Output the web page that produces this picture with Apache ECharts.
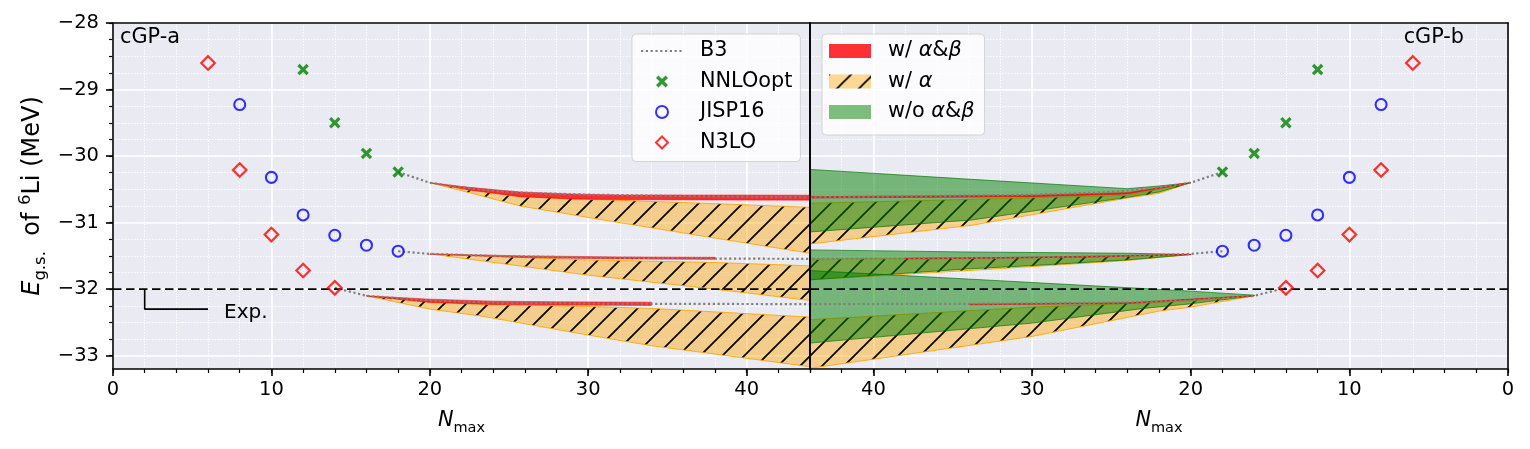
<!DOCTYPE html>
<html><head><meta charset="utf-8">
<script src="https://cdn.jsdelivr.net/npm/echarts@6/dist/echarts.min.js"></script>
<style>html,body{margin:0;padding:0;background:#fff}#c{width:1530px;height:449px}</style>
</head><body><div id="c"></div>
<script>
// ---------------- data ----------------
const xMajorTicks = [0, 10, 20, 30, 40];
const xMinorTicks = [0,2,4,6,8,10,12,14,16,18,20,22,24,26,28,30,32,34,36,38,40,42,44];
const yMajorTicks = [-33, -32, -31, -30, -29, -28];
const yMinorTicks = [-33,-32.75,-32.5,-32.25,-32,-31.75,-31.5,-31.25,-31,-30.75,-30.5,-30.25,-30,-29.75,-29.5,-29.25,-29,-28.75,-28.5,-28.25,-28];
const xRange = [0, 44];
const yRange = [-33.2, -28];

// NCSM results (Nmax, E)
const nnloN = [12, 14, 16, 18];
const nnloE = [-28.70, -29.50, -29.96, -30.24];
const jispN = [8, 10, 12, 14, 16, 18];
const jispE = [-29.225, -30.32, -30.885, -31.19, -31.34, -31.43];
const n3loN = [6, 8, 10, 12, 14];
const n3loE = [-28.60, -30.21, -31.18, -31.72, -31.98];

// B3 extrapolation curves [Nmax, E]
const b3Top = [[18,-30.24],[20,-30.40],[22,-30.47],[24,-30.52],[26,-30.55],[30,-30.58],[36,-30.60],[44,-30.62]];
const b3Mid = [[18,-31.43],[20,-31.47],[24,-31.50],[30,-31.525],[38,-31.54],[44,-31.545]];
const b3Bot = [[14,-31.98],[16,-32.10],[20,-32.17],[24,-32.20],[30,-32.215],[34,-32.22],[44,-32.225]];

// Experiment
const expE = -32.0;
const expMarkN = [2, 2, 6];
const expMarkE = [-32.0, -32.3, -32.3];

// cGP-a bands: [Nmax, lower, upper]
const aTopAB = [[20,-30.40,-30.40],[22.5,-30.51,-30.47],[25.7,-30.61,-30.54],[28.9,-30.645,-30.57],[32,-30.655,-30.585],[38,-30.66,-30.585],[44,-30.662,-30.587]];
const aTopA  = [[20,-30.40,-30.40],[22.5,-30.55,-30.51],[25.7,-30.75,-30.61],[30.7,-30.95,-30.655],[37.4,-31.21,-30.71],[44,-31.46,-30.77]];
const aMidAB = [[20,-31.475,-31.47],[26,-31.525,-31.50],[32,-31.545,-31.515],[38,-31.55,-31.52]];
const aMidA  = [[20,-31.47,-31.47],[24.4,-31.61,-31.51],[30,-31.79,-31.56],[38,-32.0,-31.60],[44,-32.17,-31.65]];
const aBotAB = [[16,-32.105,-32.10],[20,-32.20,-32.15],[24,-32.23,-32.18],[28,-32.24,-32.19],[34,-32.245,-32.195]];
const aBotA  = [[16,-32.10,-32.10],[20,-32.30,-32.19],[23.4,-32.41,-32.23],[30,-32.69,-32.26],[34,-32.85,-32.29],[44,-33.165,-32.42]];

// cGP-b bands: [Nmax, lower, upper]
const bTopAB = [[20,-30.40,-30.40],[24,-30.57,-30.55],[30,-30.61,-30.59],[44,-30.63,-30.61]];
const bTopA  = [[20,-30.40,-30.40],[22,-30.56,-30.50],[24,-30.63,-30.59],[33.8,-31.04,-30.65],[44,-31.32,-30.71]];
const bTopG  = [[20,-30.40,-30.40],[22,-30.54,-30.45],[24,-30.62,-30.49],[33.8,-30.96,-30.35],[44,-31.14,-30.20]];
const bMidAB = [[20,-31.48,-31.475],[26,-31.515,-31.505],[32,-31.535,-31.525],[38,-31.545,-31.535]];
const bMidA  = [[20,-31.48,-31.48],[24,-31.57,-31.50],[30,-31.66,-31.52],[34,-31.72,-31.53],[44,-31.86,-31.55]];
const bMidG  = [[20,-31.48,-31.48],[24,-31.56,-31.46],[29.6,-31.64,-31.45],[34.4,-31.70,-31.44],[44,-31.86,-31.41]];
const bBotAB = [[16,-32.10,-32.095],[24,-32.215,-32.205],[34,-32.235,-32.225]];
const bBotA  = [[16,-32.10,-32.10],[20,-32.27,-32.17],[22,-32.33,-32.20],[30,-32.71,-32.27],[44,-33.19,-32.46]];
const bBotG  = [[16,-32.10,-32.09],[20,-32.22,-32.03],[23,-32.29,-31.99],[30,-32.51,-31.90],[44,-32.81,-31.72]];

const legend1Names = ['B3', 'NNLOopt', 'JISP16', 'N3LO'];
const legend2Names = ['w/ α&β', 'w/ α', 'w/o α&β'];

// ---------------- styles ----------------
const FONT = 'DejaVu Sans';
const BG = '#eaeaf2';
const hatchCanvas = (function () {
  const s = 22, c = document.createElement('canvas');
  c.width = s; c.height = s;
  const g = c.getContext('2d');
  g.fillStyle = 'rgba(255,165,0,0.42)';
  g.fillRect(0, 0, s, s);
  g.strokeStyle = '#000'; g.lineWidth = 1.7;
  g.beginPath();
  g.moveTo(-2, s + 2); g.lineTo(s + 2, -2);
  g.moveTo(-2, 2); g.lineTo(2, -2);
  g.moveTo(s - 2, s + 2); g.lineTo(s + 2, s - 2);
  g.stroke();
  return c;
})();
const hatchFill = { image: hatchCanvas, repeat: 'repeat' };
const redFill = 'rgba(255,0,0,0.8)';
const greenFill = 'rgba(0,128,0,0.5)';
const orangeStroke = 'rgba(255,165,0,0.85)';
const greenStroke = 'rgba(0,110,0,0.65)';
const xSymbol = 'path://M0,2 L2,0 L5,3 L8,0 L10,2 L7,5 L10,8 L8,10 L5,7 L2,10 L0,8 L3,5 Z';
const diamondSymbol = 'path://M5,0 L10,5 L5,10 L0,5 Z';

function bandSeries(name, gi, bands, fill, stroke, lw, z) {
  return {
    type: 'custom', name: name, coordinateSystem: 'cartesian2d',
    xAxisIndex: gi, yAxisIndex: gi, clip: true, z: z, silent: true,
    itemStyle: { color: fill },
    emphasis: { disabled: true },
    data: bands.map(b => [b[0][0], b[0][1]]),
    renderItem: function (params, api) {
      const b = bands[params.dataIndex];
      const pts = [];
      for (let i = 0; i < b.length; i++) pts.push(api.coord([b[i][0], b[i][2]]));
      for (let i = b.length - 1; i >= 0; i--) pts.push(api.coord([b[i][0], b[i][1]]));
      return { type: 'polygon', shape: { points: pts }, style: { fill: fill, stroke: stroke, lineWidth: lw } };
    }
  };
}

const xAxes = [], yAxes = [];
[0, 1].forEach(gi => { // minor grid/ticks
  xAxes.push({ type: 'value', gridIndex: gi, min: xRange[0], max: xRange[1], inverse: gi === 1, position: 'bottom', z: 0,
    axisLine: { show: false }, axisLabel: { show: false },
    axisTick: { show: true, customValues: xMinorTicks, length: 4, lineStyle: { color: '#000', width: 1.2 } },
    splitLine: { show: true, lineStyle: { color: '#fff', width: 1, type: [1.5, 1.5] } } });
  yAxes.push({ type: 'value', gridIndex: gi, min: yRange[0], max: yRange[1], position: 'left', z: 0,
    axisLine: { show: false }, axisLabel: { show: false },
    axisTick: { show: gi === 0, customValues: yMinorTicks, length: 4, lineStyle: { color: '#000', width: 1.2 } },
    splitLine: { show: true, lineStyle: { color: '#fff', width: 1, type: [1.5, 1.5] } } });
});
[0, 1].forEach(gi => { // major grid/ticks/labels
  xAxes.push({ type: 'value', gridIndex: gi, min: xRange[0], max: xRange[1], inverse: gi === 1, position: 'bottom', z: 1,
    axisLine: { show: false, onZero: false },
    axisTick: { show: true, customValues: xMajorTicks, length: 7, lineStyle: { color: '#000', width: 1.6 } },
    axisLabel: { show: true, customValues: xMajorTicks, fontSize: 19.5, margin: 11, color: '#000', fontFamily: FONT },
    splitLine: { show: true, lineStyle: { color: '#fff', width: 1.6 } },
    name: '{n|N}{s|max}', nameLocation: 'middle', nameGap: 37,
    nameTextStyle: { rich: {
      n: { fontStyle: 'italic', fontSize: 20.8, lineHeight: 30, fontFamily: FONT, color: '#000' },
      s: { fontSize: 14.5, lineHeight: 20, verticalAlign: 'bottom', fontFamily: FONT, color: '#000' } } } });
  yAxes.push({ type: 'value', gridIndex: gi, min: yRange[0], max: yRange[1], position: 'left', z: 1,
    axisLine: { show: false, onZero: false },
    axisTick: { show: gi === 0, customValues: yMajorTicks, length: 7, lineStyle: { color: '#000', width: 1.6 } },
    axisLabel: { show: gi === 0, customValues: yMajorTicks, fontSize: 19.5, margin: 14, color: '#000', fontFamily: FONT,
      formatter: v => (v < 0 ? '\u2212' : '') + Math.abs(v) },
    splitLine: { show: true, lineStyle: { color: '#fff', width: 1.6 } },
    name: gi === 0 ? '{e|E}{sub|g.s.}{t|  of }{sup|6}{t|Li (MeV)}' : '',
    nameLocation: 'middle', nameRotate: 90, nameGap: 64,
    nameTextStyle: { rich: {
      e: { fontStyle: 'italic', fontSize: 24, lineHeight: 32, fontFamily: FONT, color: '#000' },
      t: { fontSize: 24, lineHeight: 32, fontFamily: FONT, color: '#000' },
      sub: { fontSize: 16.5, lineHeight: 21, verticalAlign: 'bottom', fontFamily: FONT, color: '#000' },
      sup: { fontSize: 16.5, lineHeight: 13, verticalAlign: 'top', fontFamily: FONT, color: '#000' } } } });
});
const frameLine = { show: true, onZero: false, lineStyle: { color: '#000', width: 1.6 } };
[0, 1].forEach(gi => {
  ['bottom', 'top'].forEach(pos => xAxes.push({ type: 'value', gridIndex: gi, min: xRange[0], max: xRange[1], inverse: gi === 1,
    position: pos, z: 10, axisLine: frameLine, axisTick: { show: false }, axisLabel: { show: false }, splitLine: { show: false } }));
  ['left', 'right'].forEach(pos => yAxes.push({ type: 'value', gridIndex: gi, min: yRange[0], max: yRange[1],
    position: pos, z: 10, axisLine: frameLine, axisTick: { show: false }, axisLabel: { show: false }, splitLine: { show: false } }));
});

const series = [];
// bands
series.push(bandSeries('w/ α', 0, [aTopA, aMidA, aBotA], hatchFill, orangeStroke, 1, 2));
series.push(bandSeries('w/ α&β', 0, [aTopAB, aMidAB, aBotAB], redFill, redFill, 0.6, 4));
series.push(bandSeries('w/ α', 1, [bTopA, bMidA, bBotA], hatchFill, orangeStroke, 1, 2));
series.push(bandSeries('w/o α&β', 1, [bTopG, bMidG, bBotG], greenFill, greenStroke, 1, 3));
series.push(bandSeries('w/ α&β', 1, [bTopAB, bMidAB, bBotAB], redFill, redFill, 0.8, 4));

[0, 1].forEach(gi => {
  [b3Top, b3Mid, b3Bot].forEach(d => series.push({ type: 'line', name: 'B3', xAxisIndex: gi, yAxisIndex: gi, data: d,
    symbol: 'none', silent: true, z: 5, itemStyle: { color: 'rgba(0,0,0,0)', opacity: 0 },
    lineStyle: { color: '#808080', width: 2.2, type: [2.2, 2.6] } }));
  series.push({ type: 'line', xAxisIndex: gi, yAxisIndex: gi, data: xRange.map(n => [n, expE]), symbol: 'none', silent: true, z: 6,
    lineStyle: { color: '#000', width: 1.6, type: [8.5, 4.5] } });
  series.push({ type: 'scatter', name: 'NNLOopt', xAxisIndex: gi, yAxisIndex: gi, z: 8, silent: true,
    data: nnloN.map((n, i) => [n, nnloE[i]]), symbol: xSymbol, symbolKeepAspect: true,
    symbolSize: 11.5, itemStyle: { color: '#008000' } });
  series.push({ type: 'scatter', name: 'JISP16', xAxisIndex: gi, yAxisIndex: gi, z: 8, silent: true,
    data: jispN.map((n, i) => [n, jispE[i]]),
    symbol: 'circle', symbolSize: 11, itemStyle: { color: 'rgba(0,0,0,0)', borderColor: '#0000ff', borderWidth: 2.1 } });
  series.push({ type: 'scatter', name: 'N3LO', xAxisIndex: gi, yAxisIndex: gi, z: 8, silent: true,
    data: n3loN.map((n, i) => [n, n3loE[i]]), symbolKeepAspect: true,
    symbol: diamondSymbol, symbolSize: 13.5, itemStyle: { color: 'rgba(0,0,0,0)', borderColor: '#ff0000', borderWidth: 2.2 } });
});
// Exp. marker
series.push({ type: 'line', xAxisIndex: 0, yAxisIndex: 0, data: expMarkN.map((n, i) => [n, expMarkE[i]]), symbol: 'none',
  silent: true, z: 6, lineStyle: { color: '#000', width: 1.6 },
  endLabel: { show: true, formatter: 'Exp.', distance: 16, offset: [0, 4], color: '#000', fontSize: 20, fontFamily: FONT } });

const legendCommon = {
  orient: 'vertical', itemWidth: 42, itemGap: 8.5, selectedMode: false, symbolKeepAspect: true,
  backgroundColor: 'rgba(255,255,255,0.8)', borderColor: 'rgba(204,204,204,0.8)', borderWidth: 1, borderRadius: 4,
  textStyle: { fontSize: 20.8, lineHeight: 22, color: '#000', fontFamily: FONT, padding: [0, 0, 0, 12],
    rich: { i: { fontStyle: 'italic', fontSize: 20.8, lineHeight: 22, color: '#000', fontFamily: FONT } } }
};
const legend2Fmt = { 'w/ α&β': 'w/ {i|α}&{i|β}', 'w/ α': 'w/ {i|α}', 'w/o α&β': 'w/o {i|α}&{i|β}' };
const legend1Data = legend1Names.map(n => n === 'B3'
  ? { name: n, itemStyle: { color: 'rgba(0,0,0,0)', borderWidth: 0, opacity: 0 } }
  : { name: n });

const option = {
  animation: false,
  textStyle: { fontFamily: FONT },
  title: [
    { text: 'cGP-a', left: 120, top: 27, padding: 0, textStyle: { fontSize: 20.8, fontWeight: 'normal', color: '#000', fontFamily: FONT } },
    { text: 'cGP-b', right: 66, top: 27, padding: 0, textStyle: { fontSize: 20.8, fontWeight: 'normal', color: '#000', fontFamily: FONT } }
  ],
  legend: [
    Object.assign({}, legendCommon, { data: legend1Data, left: 632, top: 34, itemHeight: 12, padding: [6, 8, 8, 8] }),
    Object.assign({}, legendCommon, { data: legend2Names, left: 822, top: 34, itemHeight: 14, padding: [6, 10, 12, 7],
      icon: 'rect', formatter: n => legend2Fmt[n] })
  ],
  grid: [
    { left: 113, top: 23, width: 697, height: 346, show: true, backgroundColor: BG, borderWidth: 0 },
    { left: 810, top: 23, width: 698, height: 346, show: true, backgroundColor: BG, borderWidth: 0 }
  ],
  xAxis: xAxes,
  yAxis: yAxes,
  series: series
};
const chart = echarts.init(document.getElementById('c'), null, { renderer: 'canvas' });
chart.setOption(option);
</script></body></html>
